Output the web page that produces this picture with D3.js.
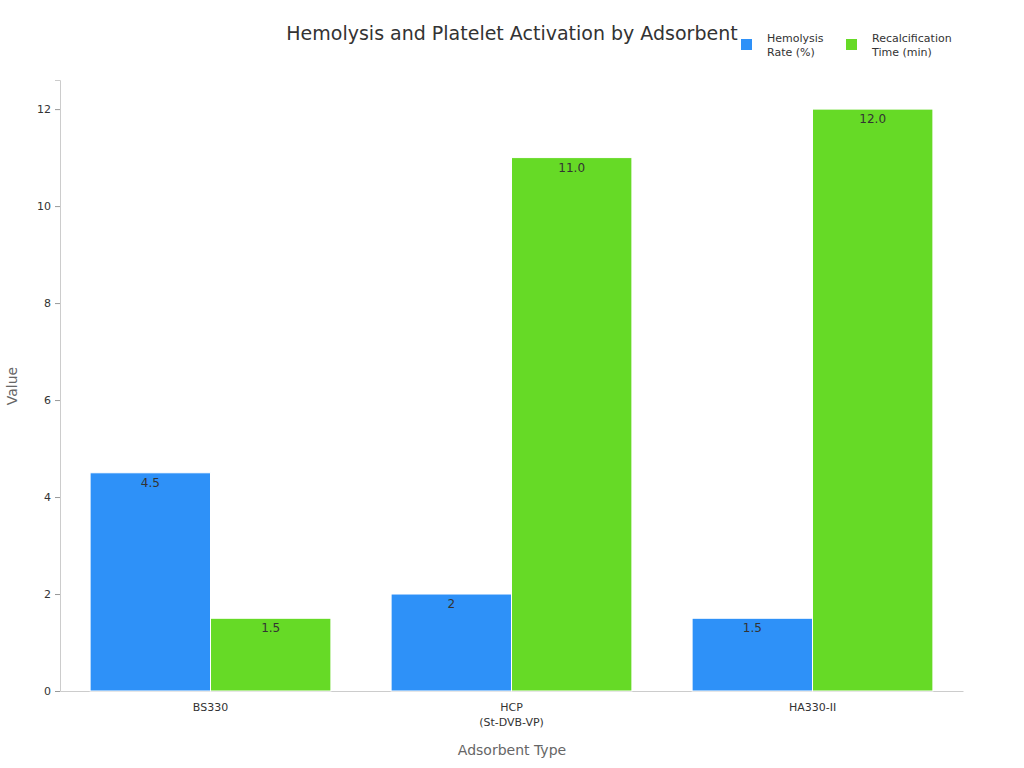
<!DOCTYPE html>
<html><head><meta charset="utf-8">
<script src="https://cdn.jsdelivr.net/npm/d3@7"></script>
<style>body{margin:0;background:#fff;font-family:"DejaVu Sans",sans-serif}</style>
</head><body><svg id="c" width="1024" height="768"></svg>
<script>
const categories = [["BS330"], ["HCP", "(St-DVB-VP)"], ["HA330-II"]];
const hemolysis = [4.5, 2, 1.5];
const hemolysisLabels = ["4.5", "2", "1.5"];
const recalc = [1.5, 11.0, 12.0];
const recalcLabels = ["1.5", "11.0", "12.0"];
const seriesNames = [["Hemolysis", "Rate (%)"], ["Recalcification", "Time (min)"]];
const colors = ["#2E91F8", "#66DA26"];
const yTicks = [0, 2, 4, 6, 8, 10, 12];

const svg = d3.select("#c");
const m = {l: 60, r: 963, t: 80, b: 691};
const x = d3.scaleBand().domain(d3.range(categories.length)).range([m.l, m.r]).paddingInner(0.2).paddingOuter(0.1);
const x1 = d3.scaleBand().domain([0, 1]).range([0, x.bandwidth()]);
const y = d3.scaleLinear().domain([0, 12.6]).range([m.b, m.t]);

const ya = svg.append("g").attr("transform", `translate(${m.l},0)`).call(d3.axisLeft(y).tickValues(yTicks).tickSize(5).tickPadding(4));
ya.select(".domain").attr("stroke", "#ccc");
ya.selectAll(".tick line").attr("stroke", "#999");
ya.selectAll("text").attr("font-size", 11).attr("fill", "#333").attr("font-family", "DejaVu Sans");

const xa = svg.append("g").attr("transform", `translate(0,${m.b})`).call(d3.axisBottom(x).tickSize(0).tickFormat(""));
xa.select(".domain").attr("stroke", "#ccc");
categories.forEach((lines, i) => {
  const t = svg.append("text").attr("x", x(i) + x.bandwidth() / 2).attr("y", 711).attr("text-anchor", "middle").attr("font-size", 11).attr("fill", "#333");
  lines.forEach((l, j) => t.append("tspan").attr("x", x(i) + x.bandwidth() / 2).attr("dy", j ? 15 : 0).text(l));
});

[[hemolysis, hemolysisLabels], [recalc, recalcLabels]].forEach(([vals, labs], s) => {
  const g = svg.append("g");
  g.selectAll("rect").data(vals).join("rect")
    .attr("x", (d, i) => x(i) + x1(s)).attr("width", x1.bandwidth())
    .attr("y", d => y(d)).attr("height", d => y(0) - y(d))
    .attr("fill", colors[s]).attr("stroke", "#fff").attr("stroke-width", 1);
  g.selectAll("text").data(vals).join("text")
    .attr("x", (d, i) => x(i) + x1(s) + x1.bandwidth() / 2).attr("y", d => y(d) + 14)
    .attr("text-anchor", "middle").attr("font-size", 12).attr("fill", "#333")
    .text((d, i) => labs[i]);
});

svg.append("text").attr("x", 512).attr("y", 40).attr("text-anchor", "middle").attr("font-size", 19).attr("fill", "#333").text("Hemolysis and Platelet Activation by Adsorbent");
svg.append("text").attr("x", 512).attr("y", 755).attr("text-anchor", "middle").attr("font-size", 14).attr("fill", "#666").text("Adsorbent Type");
svg.append("text").attr("transform", "translate(17,386) rotate(-90)").attr("text-anchor", "middle").attr("font-size", 14).attr("fill", "#666").text("Value");

seriesNames.forEach((lines, i) => {
  const lx = 741 + i * 105;
  svg.append("rect").attr("x", lx).attr("y", 39).attr("width", 11).attr("height", 11).attr("fill", colors[i]);
  const t = svg.append("text").attr("y", 42).attr("font-size", 11).attr("fill", "#333");
  lines.forEach((l, j) => t.append("tspan").attr("x", lx + 26).attr("dy", j ? 14 : 0).text(l));
});
</script></body></html>
